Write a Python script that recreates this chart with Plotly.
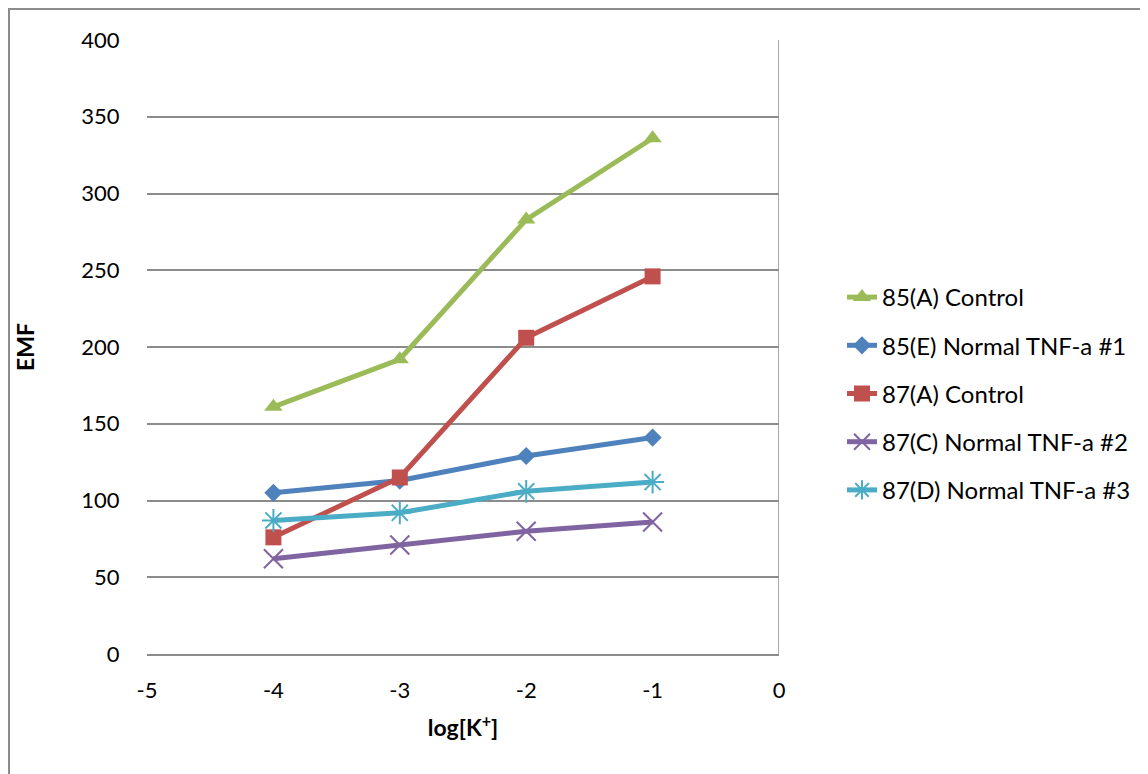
import plotly.graph_objects as go

x_vals = [-4, -3, -2, -1]
series_names = ["85(A) Control", "85(E) Normal TNF-a #1", "87(A) Control",
                "87(C) Normal TNF-a #2", "87(D) Normal TNF-a #3"]
s85A = [161, 192, 283, 336]
s85E = [105, 113, 129, 141]
s87A = [76, 115, 206, 246]
s87C = [62, 71, 80, 86]
s87D = [87, 92, 106, 112]
y_ticks = [0, 50, 100, 150, 200, 250, 300, 350, 400]
x_ticks = [-5, -4, -3, -2, -1, 0]
x_tick_text = ["-5", "-4", "-3", "-2", "-1", "0"]

colors = ["#9BBB59", "#4F81BD", "#C0504D", "#8064A2", "#4BACC6"]
symbols = ["triangle-up", "diamond", "square", "x-thin", "asterisk"]
sizes = [16, 14, 16, 19, 19]
data = [s85A, s85E, s87A, s87C, s87D]

FONT = "Lato"
GRID = "#8C8C8C"

W, H = 1140, 766
L, R, T, B = 139, 369, 32, 120
PW, PH = W - L - R, H - T - B

fig = go.Figure()
for i, (name, vals) in enumerate(zip(series_names, data)):
    thin = symbols[i] in ("x-thin", "asterisk")
    fig.add_trace(go.Scatter(
        x=x_vals, y=vals, name=name, mode="lines+markers",
        legendgroup=str(i),
        line=dict(color=colors[i], width=5),
        marker=dict(symbol=symbols[i], size=sizes[i], color=colors[i],
                    line=dict(color=colors[i], width=2 if thin else 0)),
    ))

fig.update_layout(
    width=W, height=H,
    margin=dict(l=L, r=R, t=T, b=B),
    paper_bgcolor="white", plot_bgcolor="white",
    font=dict(family=FONT, size=22, color="black"),
    showlegend=True,
    legend=dict(x=(834 - L) / PW, y=(T + PH - 267) / PH, xanchor="left", yanchor="top",
                font=dict(family=FONT, size=24, color="black"),
                tracegroupgap=14, traceorder="grouped",
                bgcolor="rgba(0,0,0,0)"),
    xaxis=dict(range=[-5, 0], tickvals=x_ticks, ticktext=x_tick_text,
               showgrid=False, zeroline=False,
               showline=True, linecolor=GRID, linewidth=1.5,
               ticks="outside", ticklen=16, tickcolor="rgba(0,0,0,0)",
               tickfont=dict(family=FONT, size=22),
               title=dict(text="<b>log[K<sup>+</sup>]</b>", standoff=18,
                          font=dict(family=FONT, size=23))),
    yaxis=dict(range=[0, 400], tickvals=y_ticks, showgrid=True, gridcolor=GRID,
               gridwidth=1.5, zeroline=False, showline=False,
               ticks="outside", ticklen=22, tickcolor="rgba(0,0,0,0)",
               tickfont=dict(family=FONT, size=22),
               title=dict(text="<b>EMF</b>", standoff=40,
                          font=dict(family=FONT, size=23))),
    shapes=[
        dict(type="line", xref="x", yref="y", x0=0, x1=0, y0=0, y1=400,
             line=dict(color=GRID, width=1.5), layer="below"),
        dict(type="rect", xref="paper", yref="paper",
             x0=(1 - L) / PW, x1=(1200 - L) / PW,
             y0=(T + PH - 800) / PH, y1=(T + PH - 1) / PH,
             line=dict(color="#8C8C8C", width=2), fillcolor="rgba(0,0,0,0)"),
    ],
)

fig.write_html("out.html")
